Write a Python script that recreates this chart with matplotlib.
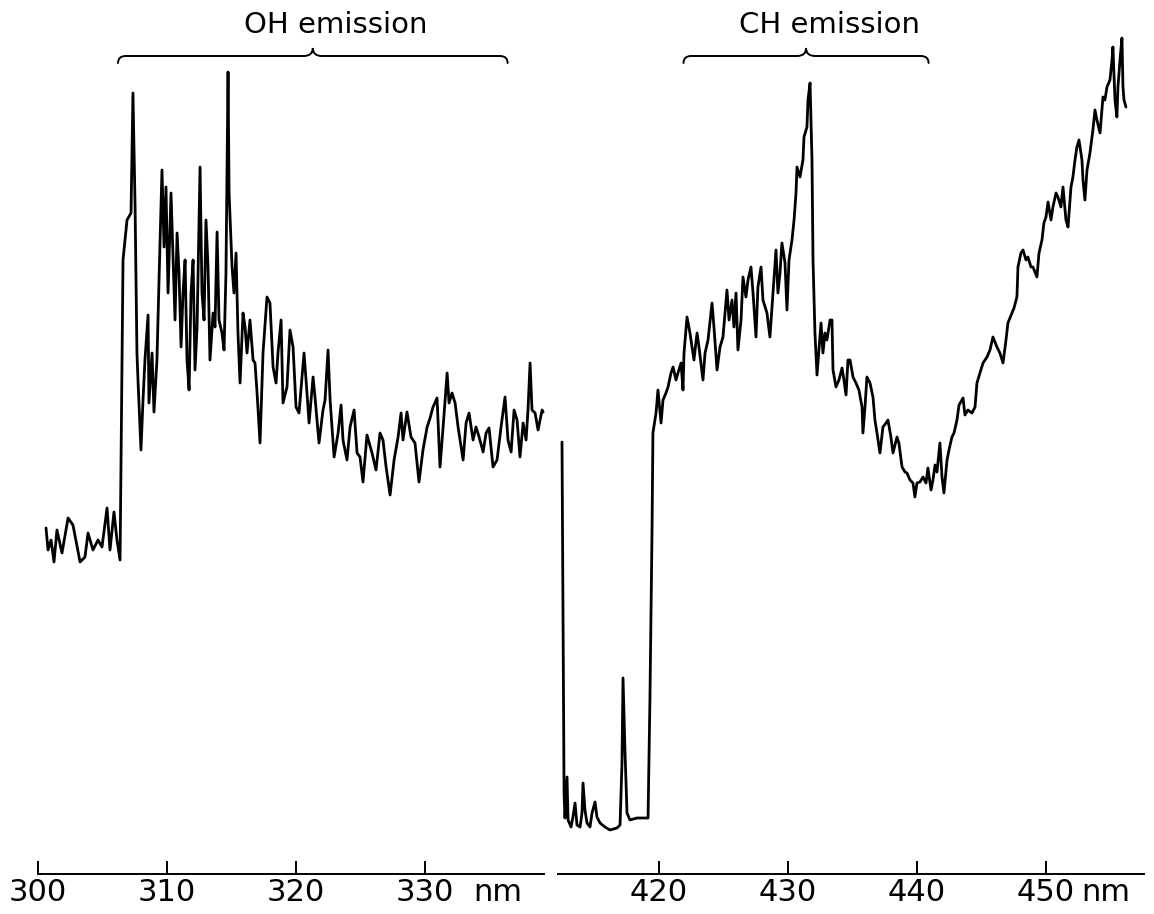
import matplotlib
matplotlib.use("Agg")
import matplotlib.pyplot as plt
from matplotlib.path import Path
from matplotlib.patches import PathPatch

# ---------------- data ----------------
oh_wavelength = [300.62, 300.78, 301.01, 301.24, 301.47, 301.86, 302.33, 302.71, 303.26, 303.64,
                 303.88, 304.26, 304.65, 304.96, 305.35, 305.58, 305.89, 306.12, 306.36,
                 306.59, 306.90, 307.21, 307.36, 307.52, 307.67, 307.75, 307.98, 308.14, 308.29,
                 308.53, 308.60, 308.84, 308.99, 309.22, 309.38, 309.61, 309.77, 309.92, 310.08,
                 310.31, 310.47, 310.62, 310.78, 310.93, 311.09, 311.24, 311.40, 311.55, 311.71,
                 311.86, 312.02, 312.17, 312.33, 312.56, 312.71, 312.87, 313.02, 313.18, 313.33,
                 313.57, 313.72, 313.88, 314.03, 314.26, 314.42, 314.57, 314.73, 314.81, 315.04,
                 315.19, 315.35, 315.50, 315.66, 315.89, 316.05, 316.20, 316.43, 316.67, 316.82,
                 316.98, 317.21, 317.44, 317.75, 317.98, 318.22, 318.45, 318.60, 318.84, 318.99,
                 319.30, 319.53, 319.77, 320.00, 320.23, 320.62, 320.85, 321.01, 321.32, 321.47,
                 321.78, 322.09, 322.25, 322.48, 322.64, 322.95, 323.26, 323.49, 323.64, 323.95,
                 324.19, 324.50, 324.73, 324.96, 325.19, 325.50, 325.89, 326.20, 326.51, 326.74,
                 326.98, 327.29, 327.60, 327.91, 328.14, 328.29, 328.60, 328.91, 329.22, 329.53,
                 329.84, 330.16, 330.39, 330.62, 330.93, 331.16, 331.40, 331.71, 331.86, 332.09,
                 332.33, 332.56, 332.95, 333.18, 333.41, 333.72, 333.95, 334.19, 334.50, 334.73,
                 334.96, 335.27, 335.58, 335.89, 336.20, 336.43, 336.67, 336.90, 337.13, 337.36,
                 337.60, 337.83, 337.98, 338.14, 338.29, 338.53, 338.76, 339.07, 339.15]
oh_intensity = [34.6, 32.4, 33.4, 31.2, 34.4, 32.1, 35.6, 34.9, 31.2, 31.7,
                34.1, 32.4, 33.4, 32.7, 36.6, 32.4, 36.2, 33.4, 31.4,
                61.4, 65.4, 66.1, 78.1, 67.1, 52.1, 49.4, 42.4, 47.4, 51.4,
                55.9, 47.1, 52.1, 46.2, 51.4, 59.4, 70.4, 62.7, 68.7, 58.1,
                68.1, 61.4, 55.4, 64.1, 60.1, 52.7, 58.1, 61.4, 51.4, 48.4,
                58.1, 61.4, 50.4, 54.7, 70.7, 58.1, 55.4, 65.4, 60.7, 51.4,
                56.1, 54.7, 64.2, 55.4, 54.1, 52.4, 60.1, 80.2, 68.1, 60.7,
                58.1, 62.1, 54.1, 49.1, 56.1, 54.7, 52.1, 55.4, 51.4, 51.1,
                48.1, 43.1, 52.1, 57.7, 57.1, 50.7, 49.1, 52.1, 55.4, 47.1,
                48.7, 54.4, 52.7, 46.7, 46.1, 52.1, 48.1, 45.1, 49.7, 47.7,
                43.1, 46.4, 47.4, 52.4, 47.4, 41.7, 44.1, 46.9, 43.4, 41.4,
                44.7, 46.4, 42.1, 41.7, 39.2, 43.9, 42.1, 40.4, 44.1, 43.4,
                40.7, 37.9, 41.4, 43.7, 46.1, 43.4, 46.2, 43.7, 43.1, 39.2,
                42.4, 44.7, 45.6, 46.7, 47.6, 40.7, 44.7, 50.1, 47.1, 48.1,
                47.1, 44.7, 41.4, 45.1, 46.1, 43.4, 44.7, 43.7, 42.2, 44.1,
                44.6, 40.7, 41.4, 44.7, 47.7, 43.4, 42.2, 46.4, 45.4, 41.7,
                45.1, 43.4, 46.4, 51.1, 46.4, 46.1, 44.4, 46.4, 46.2]

ch_wavelength = [412.48, 412.64, 412.71, 412.87, 412.95, 413.18, 413.33, 413.49, 413.64, 413.88,
                 414.03, 414.11, 414.26, 414.42, 414.65, 414.81, 415.04, 415.19, 415.43, 415.81,
                 416.20, 416.74, 416.98, 417.13, 417.21, 417.36, 417.52, 417.75, 418.29, 419.15,
                 419.30, 419.46, 419.53,
                 419.77, 419.92, 420.16, 420.31, 420.54, 420.70, 420.93, 421.09, 421.32, 421.47,
                 421.71, 421.86, 421.94, 422.17, 422.40, 422.71, 422.95, 423.10, 423.41, 423.57,
                 423.80, 424.11, 424.26, 424.50, 424.73, 424.96, 425.27, 425.43, 425.66, 425.81,
                 425.97, 426.12, 426.36, 426.51, 426.74, 426.90, 427.13, 427.29, 427.52, 427.67,
                 427.91, 428.06, 428.37, 428.60, 428.84, 429.07, 429.22, 429.38, 429.53, 429.77,
                 429.92, 430.08, 430.31, 430.47, 430.62, 430.70, 430.93, 431.16, 431.24, 431.47,
                 431.55, 431.71, 431.86, 431.94, 432.09, 432.25, 432.40, 432.56, 432.71, 432.87,
                 433.02, 433.26, 433.41, 433.49, 433.72, 433.95, 434.19, 434.34, 434.50, 434.65,
                 434.81, 435.04, 435.27, 435.50, 435.74, 435.81, 435.97, 436.12, 436.36, 436.59,
                 436.74, 436.90, 437.13, 437.36, 437.60, 437.75, 437.98, 438.14, 438.45, 438.60,
                 438.84, 439.07, 439.22, 439.46, 439.69, 439.84, 440.00, 440.23, 440.47, 440.70,
                 440.85, 441.09, 441.24, 441.40, 441.55, 441.78, 441.94, 442.09, 442.33, 442.48,
                 442.71, 442.87, 443.10, 443.26, 443.57, 443.72, 443.95, 444.26, 444.50, 444.65,
                 444.88, 445.12, 445.43, 445.66, 445.89, 446.20, 446.43, 446.67, 446.90, 447.05,
                 447.36, 447.52, 447.75, 447.83, 448.06, 448.22, 448.45, 448.60, 448.84, 448.99,
                 449.30, 449.46, 449.69, 449.84, 450.00, 450.16, 450.39, 450.54, 450.78, 450.93,
                 451.16, 451.32, 451.55, 451.71, 451.94, 452.09, 452.25, 452.40, 452.56, 452.79,
                 452.87, 453.02, 453.18, 453.41, 453.64, 453.80, 453.95, 454.19, 454.42, 454.57,
                 454.73, 454.96, 455.12, 455.19, 455.35, 455.50, 455.58, 455.74, 455.89, 455.97,
                 456.05, 456.20]
ch_intensity = [43.2, 8.1, 5.6, 9.7, 5.4, 4.7, 5.7, 7.1, 4.9, 4.7,
                6.1, 9.1, 6.4, 5.1, 4.7, 6.1, 7.2, 5.7, 5.1, 4.7,
                4.4, 4.6, 4.9, 11.1, 19.6, 12.4, 6.1, 5.4, 5.6, 5.6,
                17.7, 34.4, 44.1,
                46.1, 48.4, 45.1, 47.4, 48.1, 48.7, 50.1, 50.7, 49.4, 50.1,
                51.1, 48.4, 52.1, 55.7, 54.1, 51.4, 54.1, 52.7, 49.4, 52.1,
                53.4, 57.1, 54.7, 50.4, 52.7, 53.7, 58.4, 55.4, 57.4, 54.7,
                58.1, 52.4, 55.4, 59.7, 57.7, 59.4, 60.7, 58.1, 53.7, 58.7,
                60.7, 57.4, 56.1, 53.7, 58.1, 62.4, 58.1, 60.1, 63.1, 61.1,
                56.4, 61.4, 63.4, 65.4, 68.1, 70.7, 69.7, 71.4, 73.7, 74.7,
                77.4, 79.1, 71.4, 61.4, 54.1, 49.9, 52.4, 55.1, 52.1, 54.1,
                53.4, 55.4, 55.4, 50.4, 48.7, 49.4, 50.6, 49.4, 47.9, 51.4,
                51.4, 49.7, 49.1, 48.4, 46.7, 44.1, 46.7, 49.7, 49.1, 47.7,
                45.4, 44.1, 42.1, 44.7, 45.1, 45.4, 43.7, 42.1, 43.7, 43.1,
                40.7, 40.2, 40.1, 39.4, 39.1, 37.7, 39.1, 39.2, 39.7, 39.1,
                40.6, 38.4, 39.4, 40.9, 40.2, 43.1, 39.7, 38.1, 41.4, 42.4,
                43.7, 44.1, 45.4, 46.9, 47.6, 45.9, 46.4, 46.1, 46.7, 49.1,
                50.1, 51.1, 51.7, 52.4, 53.7, 52.7, 52.1, 51.1, 53.4, 55.1,
                56.1, 56.6, 57.7, 60.7, 62.1, 62.4, 61.4, 61.7, 60.7, 60.7,
                59.7, 62.1, 63.4, 65.1, 65.7, 67.2, 65.4, 66.7, 68.1, 67.7,
                66.7, 68.7, 65.4, 64.7, 68.7, 69.7, 71.4, 72.7, 73.4, 71.4,
                69.4, 67.4, 70.4, 72.1, 74.4, 76.4, 75.4, 74.1, 77.7, 77.4,
                78.7, 79.4, 81.4, 82.7, 77.4, 75.7, 78.7, 81.4, 83.6, 78.7,
                77.4, 76.7]

oh_ticks = [300, 310, 320, 330]
ch_ticks = [420, 430, 440, 450]
oh_range = (300.0, 339.22)
ch_range = (412.17, 457.60)
oh_band = (306.2, 336.4)
ch_band = (421.9, 440.9)
band_labels = ["OH emission", "CH emission"]
unit_label = "nm"

# ---------------- figure ----------------
W, H = 1154, 914
fig = plt.figure(figsize=(W / 100, H / 100), dpi=100)
fig.patch.set_facecolor("white")

bottom = 40 / H
height = 874 / H
ax_l = fig.add_axes([38 / W, bottom, 506 / W, height])
ax_r = fig.add_axes([558 / W, bottom, 586 / W, height])

FONT = "DejaVu Sans"
YMAX = 87.4


def brace(ax, x0, x1, y, h_end, h_mid, d_end, d_mid, lw=1.4):
    xm = (x0 + x1) / 2.0
    verts = [(x0, y - h_end), (x0, y), (x0 + d_end, y),
             (xm - d_mid, y),
             (xm, y), (xm, y + h_mid),
             (xm, y), (xm + d_mid, y),
             (x1 - d_end, y),
             (x1, y), (x1, y - h_end)]
    codes = [Path.MOVETO, Path.CURVE3, Path.CURVE3,
             Path.LINETO,
             Path.CURVE3, Path.CURVE3,
             Path.CURVE3, Path.CURVE3,
             Path.LINETO,
             Path.CURVE3, Path.CURVE3]
    ax.add_patch(PathPatch(Path(verts, codes), fill=False, lw=lw,
                           edgecolor="black", clip_on=False, capstyle="round"))


for ax, wl, inten, ticks, xr, band, lab, nm_x in [
        (ax_l, oh_wavelength, oh_intensity, oh_ticks, oh_range, oh_band, band_labels[0], 335.6),
        (ax_r, ch_wavelength, ch_intensity, ch_ticks, ch_range, ch_band, band_labels[1], 454.6)]:
    ax.plot(wl, inten, color="black", lw=2.0, solid_joinstyle="round",
            solid_capstyle="round", clip_on=False)
    ax.set_xlim(*xr)
    ax.set_ylim(0, YMAX)
    for s in ("top", "left", "right"):
        ax.spines[s].set_visible(False)
    ax.spines["bottom"].set_linewidth(1.4)
    ax.set_yticks([])
    ax.set_xticks(ticks)
    ax.set_xticklabels([str(t) for t in ticks], fontsize=22, family=FONT)
    ax.tick_params(axis="x", direction="in", length=9.5, width=1.4, pad=3)
    ax.patch.set_alpha(0)
    ax.annotate(unit_label, xy=(nm_x, 0), xycoords=("data", "axes fraction"),
                xytext=(0, -3 - 9.5 * 0), textcoords="offset points",
                ha="center", va="top", fontsize=22, family=FONT)
    brace(ax, band[0], band[1], 81.8, 0.7, 0.8, 0.6, 0.7)
    ax.text((band[0] + band[1]) / 2 + 1.8, 84.9, lab, ha="center", va="center",
            fontsize=21, family=FONT)

fig.savefig("out.png", dpi=100, facecolor="white")
